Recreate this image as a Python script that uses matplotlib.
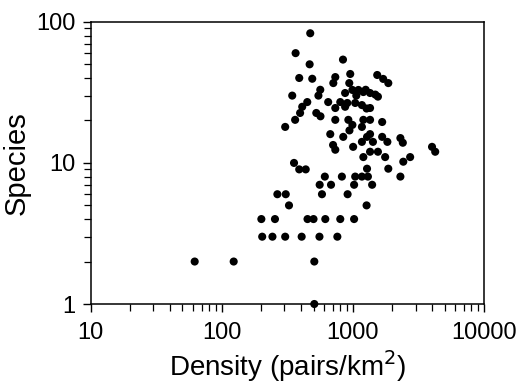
import numpy as np
import matplotlib
matplotlib.use('Agg')
import matplotlib.pyplot as plt
from matplotlib.ticker import FixedLocator, NullFormatter, LogLocator

# density (pairs/km2) and number of species
density = [
    472, 365, 467, 839, 389, 489, 344, 563, 545, 733, 708, 953, 937,
    1531, 1700, 1860, 871, 990, 1100, 1200, 1350, 1480, 1060, 1250, 1550,
    647, 800, 905, 1040, 1170, 1350, 733, 871, 1270,
    410, 448, 395, 362, 304, 525, 565,
    733, 922, 990, 1200, 1350, 1670, 1170, 940, 671, 843, 705, 733, 1003,
    1170, 1280, 1350, 1420, 1670, 1830, 2300, 2400, 1200, 1350, 1550, 1760,
    2420, 2730, 4010, 4240, 1280, 1860, 610, 823, 1040, 1170, 1300, 2300,
    355, 389, 436, 557, 680, 1020, 1400, 580, 910, 1270, 265, 307, 325,
    200, 254, 450, 500, 615, 800, 1020,
    203, 243, 304, 406, 555, 760,
    62, 123, 507, 507,
]
species = [
    83, 60, 50, 54, 40, 39.5, 30, 33, 30, 40.6, 36.8, 42.7, 36.8,
    42, 39.4, 36.8, 31.3, 32.9, 32.9, 31.8, 31.3, 30.5, 30, 33, 29.5,
    27, 27, 26.6, 26.6, 25.7, 24.5, 24.5, 25, 24.3,
    25, 27, 22.6, 20.2, 18, 22.6, 21.4,
    20.2, 20.2, 18.6, 20.2, 20.2, 19.5, 18, 17, 16, 15.3, 13.4, 12.4, 13,
    14.1, 15.3, 16, 14.1, 15.3, 14.1, 15, 13.9, 11, 12, 12, 11,
    10.2, 11, 13, 12, 9.1, 9.1, 8, 8, 8, 8, 8, 8,
    10, 9, 9, 7, 7, 7, 7, 6, 6, 5, 6, 6, 5,
    4, 4, 4, 4, 4, 4, 4,
    3, 3, 3, 3, 3, 3,
    2, 2, 2, 1,
]

x_ticks = [10, 100, 1000, 10000]
y_ticks = [1, 10, 100]

plt.rcParams['font.family'] = ['Liberation Sans', 'DejaVu Sans']

fig = plt.figure(figsize=(5.25, 3.9), dpi=100)
ax = fig.add_axes([0.173, 0.2205, 0.749, 0.7235])

ax.scatter(density, species, s=34, color='black', edgecolors='none', zorder=3, clip_on=False)

ax.set_xscale('log')
ax.set_yscale('log')
ax.set_xlim(10, 10000)
ax.set_ylim(1, 100)

ax.xaxis.set_major_locator(FixedLocator(x_ticks))
ax.set_xticklabels([str(t) for t in x_ticks])
ax.yaxis.set_major_locator(FixedLocator(y_ticks))
ax.set_yticklabels([str(t) for t in y_ticks])
ax.xaxis.set_minor_locator(LogLocator(base=10, subs=np.arange(2, 10)))
ax.yaxis.set_minor_locator(LogLocator(base=10, subs=np.arange(2, 10)))
ax.xaxis.set_minor_formatter(NullFormatter())
ax.yaxis.set_minor_formatter(NullFormatter())

ax.tick_params(which='major', direction='out', length=6, width=1, labelsize=17, pad=5)
ax.tick_params(which='minor', direction='out', length=5, width=0.9)
ax.tick_params(axis='x', which='major', pad=7)
ax.tick_params(top=False, right=False)

for sp in ax.spines.values():
    sp.set_linewidth(1.1)

ax.set_xlabel('Density (pairs/km$^2$)', fontsize=20, labelpad=3)
ax.set_ylabel('Species', fontsize=21, labelpad=4)

fig.savefig('out.png', dpi=100)
